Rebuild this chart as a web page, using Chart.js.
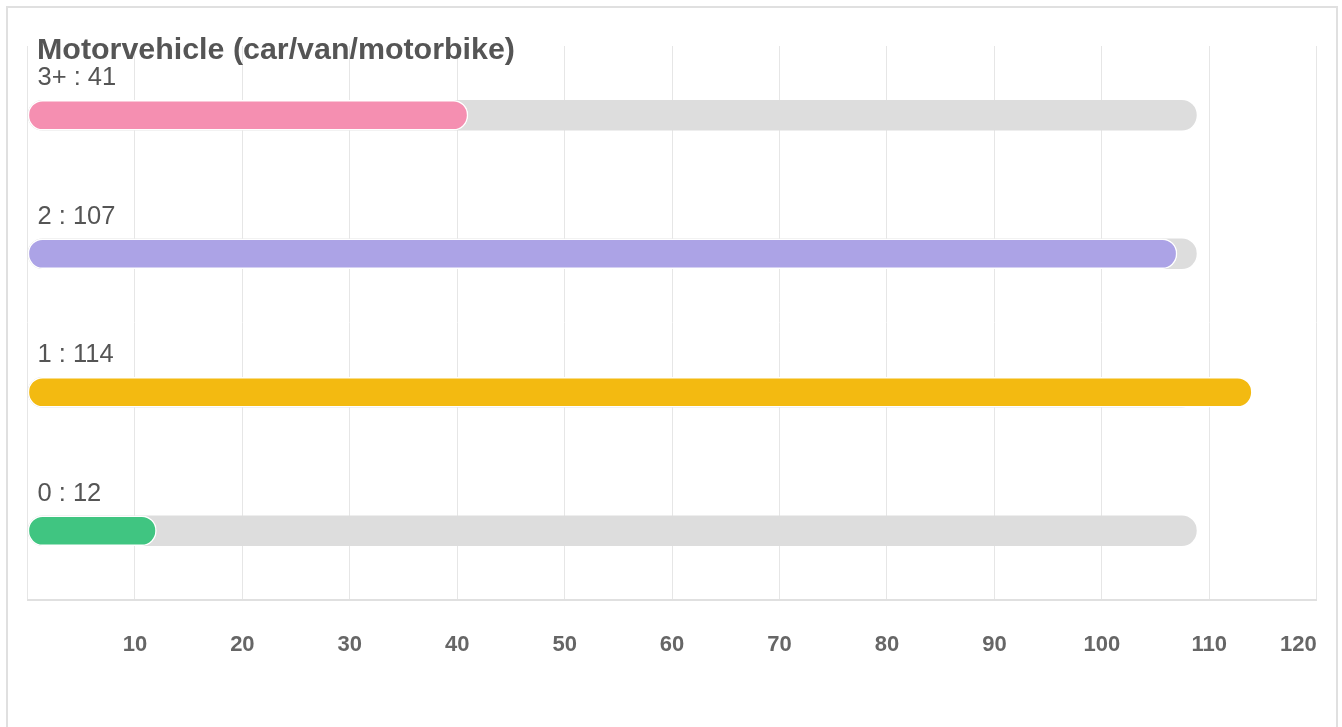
<!DOCTYPE html>
<html>
<head>
<meta charset="utf-8">
<script src="https://cdn.jsdelivr.net/npm/chart.js@4/dist/chart.umd.min.js"></script>
<style>
  html, body { margin: 0; padding: 0; background: #fff; width: 1342px; height: 727px; overflow: hidden; }
  #frame { position: absolute; left: 6px; top: 6px; width: 1328px; height: 800px;
           border: 2px solid #e0e0e0; box-sizing: content-box; }
  #chartCanvas { position: absolute; left: 0; top: 0; }
  #title { position: absolute; left: 37px; top: 32.5px; font: bold 30.4px "Liberation Sans", Arial, Helvetica, sans-serif;
           line-height: 30px; color: #555; white-space: nowrap; z-index: 2; }
</style>
</head>
<body>
<div id="frame"></div>
<canvas id="chartCanvas" width="1400" height="727"></canvas>
<div id="title">Motorvehicle (car/van/motorbike)</div>
<script>
// ---- data ----
const categories = ['3+', '2', '1', '0'];
const values = [41, 107, 114, 12];
const trackValues = [108.8, 108.8, 108.8, 108.8];
const barColors = ['#f58fb1', '#aca3e6', '#f3ba11', '#40c581'];
const xTickLabels = ['', '10', '20', '30', '40', '50', '60', '70', '80', '90', '100', '110', '120'];

const FONT = '"Liberation Sans", Arial, Helvetica, sans-serif';

new Chart(document.getElementById('chartCanvas'), {
  type: 'bar',
  data: {
    labels: categories,
    datasets: [
      {
        data: values,
        backgroundColor: barColors,
        borderColor: '#ffffff',
        borderWidth: 1.5,
        borderRadius: 15,
        borderSkipped: false,
        barThickness: 30,
        grouped: false
      },
      {
        data: trackValues,
        backgroundColor: '#dddddd',
        borderWidth: 0,
        borderRadius: 15,
        borderSkipped: false,
        barThickness: 30,
        grouped: false
      }
    ]
  },
  options: {
    indexAxis: 'y',
    responsive: false,
    animation: false,
    layout: { padding: { left: 27.5, top: 46, right: 83.3, bottom: 36.6 } },
    plugins: { legend: { display: false }, tooltip: { enabled: false }, title: { display: false } },
    scales: {
      x: {
        min: 0, max: 120,
        grid: { color: '#e6e6e6', lineWidth: 1, drawTicks: false },
        border: { display: true, color: '#e0e0e0', width: 2 },
        afterFit: function (scale) { scale.paddingLeft = 0; scale.paddingRight = 0; },
        ticks: {
          stepSize: 10,
          autoSkip: false,
          maxRotation: 0,
          padding: 32,
          color: '#666',
          font: { family: FONT, size: 22, weight: 'bold' },
          callback: function (value, index, ticks) {
            const lbl = xTickLabels[index] || '';
            // last label sits flush with the right edge of the plot
            return index === ticks.length - 1 ? lbl + '\u2007\u2007\u2007' : lbl;
          }
        }
      },
      y: {
        grid: { display: false, drawTicks: false },
        border: { display: false },
        afterFit: function (scale) { scale.width = 0; scale.paddingTop = 0; scale.paddingBottom = 0; },
        ticks: {
          mirror: true,
          autoSkip: false,
          padding: 10,
          labelOffset: -37,
          color: '#555',
          font: { family: FONT, size: 25.5 },
          callback: function (value, index) {
            return categories[index] + ' : ' + values[index];
          }
        }
      }
    }
  }
});
</script>
</body>
</html>
